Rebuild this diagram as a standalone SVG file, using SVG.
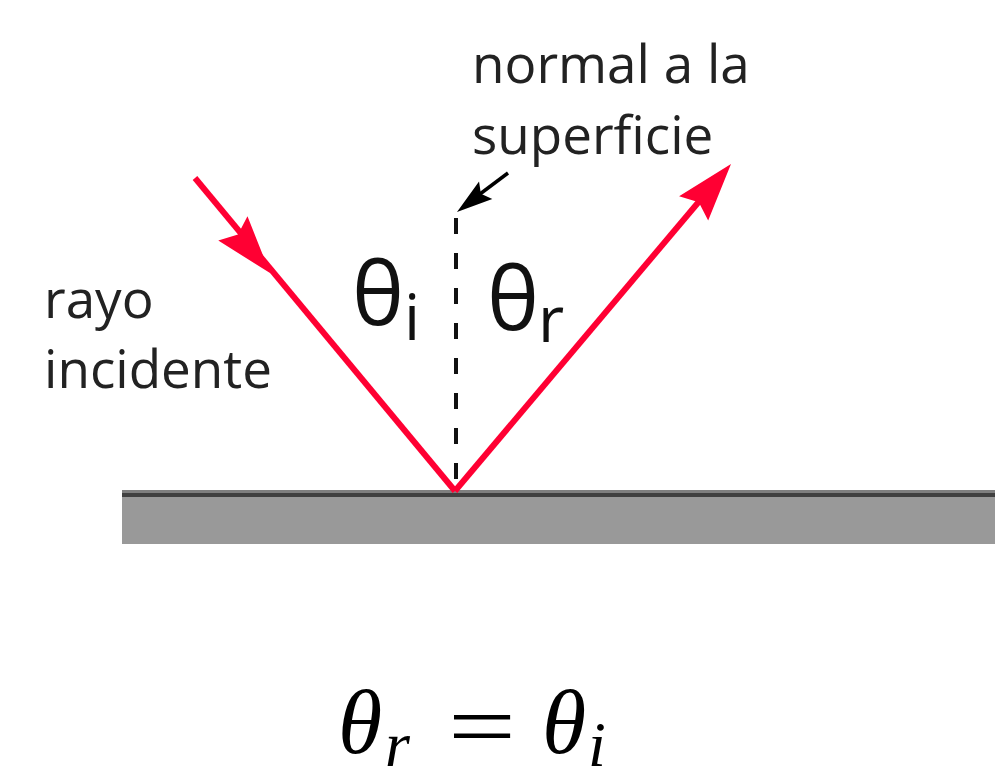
<svg xmlns="http://www.w3.org/2000/svg" width="995" height="766" viewBox="0 0 995 766">
<style>
.lbl{font-family:"Open Sans","Liberation Sans",sans-serif;font-size:53px;fill:#222}
.th{font-family:"Open Sans","Liberation Sans",sans-serif;fill:#111}
.ray{stroke:#FF0033;stroke-width:6;fill:none}
.math{font-family:"Liberation Serif","DejaVu Serif",serif;fill:#000}
</style>
<defs>
<path id="head" d="M0,0 L-58,-19 L-50,0 L-58,19 Z" fill="#FF0033"/>
<path id="khead" d="M0,0 L-36,-11 L-30,0 L-36,11 Z" fill="#000"/>
</defs>
<g id="surface">
<rect x="122" y="490" width="873" height="54" fill="#999999"/>
<rect x="122" y="490" width="873" height="3" fill="#7f7f7f"/>
<rect x="122" y="493" width="873" height="4" fill="#404040"/>
</g>
<g id="connectors">
<line x1="456" y1="218" x2="456" y2="490" stroke="#111" stroke-width="4" stroke-dasharray="16 19"/>
<line x1="508" y1="173" x2="476" y2="197" stroke="#000" stroke-width="3.5"/>
<use href="#khead" transform="translate(457,212) rotate(142.8)"/>
<line class="ray" x1="195" y1="178" x2="455" y2="491"/>
<use href="#head" transform="translate(270,273) rotate(50.2)"/>
<line class="ray" x1="455" y1="491" x2="718" y2="179"/>
<use href="#head" transform="translate(731,164) rotate(-49.9)"/>
</g>
<g id="normal-label">
<text class="lbl" x="472" y="83">normal a la</text>
<text class="lbl" x="472" y="154">superficie</text>
</g>
<g id="incident-label">
<text class="lbl" x="44" y="318">rayo</text>
<text class="lbl" x="44" y="388">incidente</text>
</g>
<g id="theta-i">
<text class="th" x="352" y="325" font-size="88">θ</text>
<text class="th" x="404" y="340" font-size="64">i</text>
</g>
<g id="theta-r">
<text class="th" x="487" y="330" font-size="88">θ</text>
<text class="th" x="538" y="342" font-size="64">r</text>
</g>
<g id="formula">
<text class="math" x="338" y="753" font-size="90" font-style="italic">θ</text>
<text class="math" x="385" y="766" font-size="64" font-style="italic">r</text>
<text class="math" x="448" y="757" font-size="90" textLength="68" lengthAdjust="spacingAndGlyphs">=</text>
<text class="math" x="542" y="753" font-size="90" font-style="italic">θ</text>
<text class="math" x="588" y="766" font-size="64" font-style="italic">i</text>
</g>
</svg>
